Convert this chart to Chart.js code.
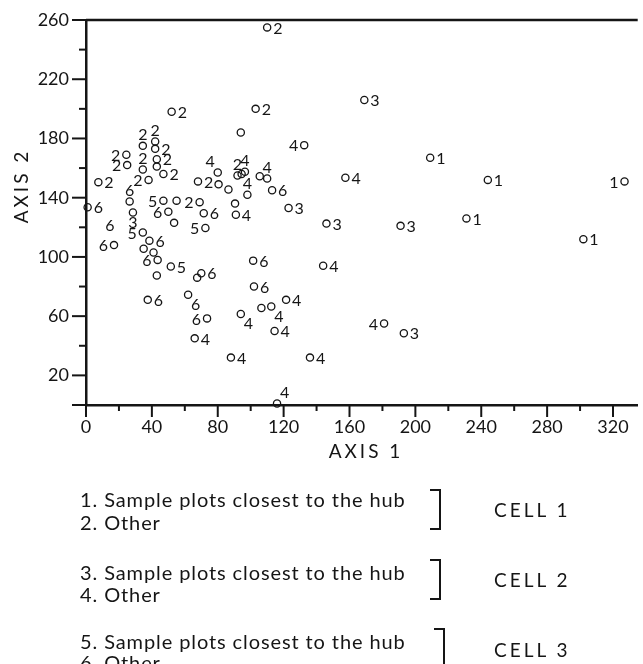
<!DOCTYPE html>
<html>
<head>
<meta charset="utf-8">
<script src="https://cdn.jsdelivr.net/npm/chart.js@4"></script>
<style>
  html, body { margin: 0; padding: 0; background: #fff; }
  #wrap { position: relative; width: 643px; height: 664px; overflow: hidden; }
  #myChart { position: absolute; left: 0; top: 0; }
  .key { position: absolute; font-family: Lato, sans-serif; font-size: 20px; letter-spacing: 0.9px; color: #151515; white-space: nowrap; line-height: 22px; }
  .cell { font-size: 19px; letter-spacing: 3px; }
  .brace { position: absolute; border: 2px solid #151515; border-left: none; width: 9px; }
</style>
</head>
<body>
<div id="wrap">
  <canvas id="myChart" width="643" height="664"></canvas>

  <div class="key" style="left:80px; top:488px;">1.&nbsp;Sample plots closest to the hub</div>
  <div class="key" style="left:80px; top:511px;">2.&nbsp;Other</div>
  <div class="brace" style="left:430px; top:489px; height:37px;"></div>
  <div class="key cell" style="left:494px; top:499px;">CELL 1</div>

  <div class="key" style="left:80px; top:561px;">3.&nbsp;Sample plots closest to the hub</div>
  <div class="key" style="left:80px; top:583px;">4.&nbsp;Other</div>
  <div class="brace" style="left:430px; top:559px; height:37px;"></div>
  <div class="key cell" style="left:494px; top:569px;">CELL 2</div>

  <div class="key" style="left:80px; top:630px;">5.&nbsp;Sample plots closest to the hub</div>
  <div class="key" style="left:80px; top:651px;">6.&nbsp;Other</div>
  <div class="brace" style="left:434px; top:628px; height:37px;"></div>
  <div class="key cell" style="left:494px; top:639px;">CELL 3</div>
</div>

<script>
// axis 1 / axis 2 scores
const cell1Hub = [[209, 167], [244, 152], [327, 151], [231, 126], [302, 112]];
const cell1Other = [
    [110, 255], [103, 200], [52, 198], [34.5, 175], [42, 178], [42, 173],
    [24.5, 169], [43, 166], [43, 161], [25, 162], [34.5, 159], [47, 156],
    [7.5, 150.5], [38, 152], [69, 137], [68, 151], [80.5, 149], [86.5, 145.5],
    [92, 155], [94, 184]
];
const cell2Hub = [[169, 206], [123, 133], [146, 122.5], [191, 121], [193, 48.5], [28.5, 130]];
const cell2Other = [
    [132.5, 175.5], [157.5, 153.5], [80, 157], [94.5, 156], [96.5, 157.5],
    [105.5, 154.5], [110, 153], [98, 142], [90.5, 136], [91, 128.5],
    [144, 94], [121.5, 71], [106.5, 65.5], [112.5, 66.5], [94, 61.5],
    [114.5, 50], [181, 55], [88, 32], [136, 32], [116, 1], [66, 45]
];
const cell3Hub = [[34.5, 116.5], [51.5, 93.5], [47, 138], [72.5, 119.5], [55, 138]];
const cell3Other = [
    [1, 133.5], [26.5, 137.5], [14.5, 121.5], [38.5, 111], [35, 105.5],
    [41, 103], [43.5, 98], [43, 87.5], [37.5, 71], [17, 108], [50, 130.5],
    [53.5, 123], [71.5, 129.5], [70, 89], [67.5, 86], [62, 74.5], [73.5, 58.5],
    [113, 145], [101.5, 97.5], [102, 80]
];

// where each number sits next to its circle (r, l, t, b, n = none, c = number only)
const side1 = ['r', 'r', 'l', 'r', 'r'];
const side2 = ['r', 'r', 'r', 't', 't', 'r', 'l', 'r', 'n', 'l', 't', 'r', 'r', 'l', 'l', 'r', 'n', 'n', 't', 'n'];
const side3 = ['r', 'r', 'r', 'r', 'r', 'b'];
const side4 = ['l', 'r', 'tl', 'n', 't', 'n', 't', 't', 'n', 'r', 'r', 'r', 'n', 'br', 'br', 'r', 'l', 'r', 'r', 'tr', 'r'];
const side5 = ['l', 'r', 'l', 'l', 'n'];
const side6 = ['r', 't', 'c', 'r', 'n', 'n', 'l', 'n', 'r', 'l', 'l', 'n', 'r', 'r', 'n', 'br', 'l', 'r', 'r', 'r'];

const groups = [
    { tag: '1', pts: cell1Hub, sides: side1 },
    { tag: '2', pts: cell1Other, sides: side2 },
    { tag: '3', pts: cell2Hub, sides: side3 },
    { tag: '4', pts: cell2Other, sides: side4 },
    { tag: '5', pts: cell3Hub, sides: side5 },
    { tag: '6', pts: cell3Other, sides: side6 },
];

const INK = '#151515';
const FONT = 'Lato, sans-serif';

const datasets = groups.map(g => ({
    label: g.tag,
    tag: g.tag,
    sides: g.sides,
    data: g.pts.map(p => ({ x: p[0], y: p[1] })),
    pointStyle: 'circle',
    radius: ctx => g.sides[ctx.dataIndex] === 'c' ? 0 : 3.6,
    borderColor: INK,
    borderWidth: 1.3,
    backgroundColor: 'rgba(255,255,255,0)',
    clip: false,
}));

// digits next to the circles
const pointTags = {
    id: 'pointTags',
    afterDatasetsDraw(chart) {
        const ctx = chart.ctx;
        ctx.save();
        ctx.font = '16px ' + FONT;
        ctx.fillStyle = INK;
        ctx.textBaseline = 'middle';
        chart.data.datasets.forEach((ds, i) => {
            chart.getDatasetMeta(i).data.forEach((pt, j) => {
                const s = ds.sides[j];
                if (s === 'n') return;
                let dx = 0, dy = 1, align = 'center';
                if (s.includes('r')) { dx = 6; align = 'left'; }
                if (s.includes('l')) { dx = -6; align = 'right'; }
                if (s.includes('t')) dy = -11;
                if (s.includes('b')) dy = 10;
                if (s.length === 2) dx = dx > 0 ? 3 : -3;
                ctx.textAlign = align;
                ctx.fillText(ds.tag, pt.x + dx, pt.y + dy);
            });
        });
        ctx.restore();
    }
};

// tick marks, top frame line and axis titles
const frame = {
    id: 'frame',
    afterDraw(chart) {
        const { ctx, chartArea: a, scales: { x, y } } = chart;
        ctx.save();
        ctx.strokeStyle = INK;
        ctx.lineWidth = 2;
        for (let v = 0; v <= 320; v += 20) {
            const px = x.getPixelForValue(v);
            const len = v % 40 === 0 ? 12 : 6;
            ctx.beginPath();
            ctx.moveTo(px, a.bottom);
            ctx.lineTo(px, a.bottom + len);
            ctx.stroke();
        }
        for (let v = 0; v <= 260; v += 20) {
            const py = y.getPixelForValue(v);
            const len = (v === 0 || (v - 20) % 40 === 0) ? 14 : 7;
            ctx.beginPath();
            ctx.moveTo(a.left, py);
            ctx.lineTo(a.left - len, py);
            ctx.stroke();
        }
        ctx.lineWidth = 2.5;
        ctx.beginPath();
        ctx.moveTo(a.left, a.top);
        ctx.lineTo(a.right, a.top);
        ctx.stroke();

        ctx.fillStyle = INK;
        ctx.font = '19px ' + FONT;
        ctx.letterSpacing = '3px';
        ctx.textAlign = 'center';
        ctx.textBaseline = 'middle';
        ctx.fillText('AXIS 1', 366, 452);
        ctx.translate(22, 186);
        ctx.rotate(-Math.PI / 2);
        ctx.fillText('AXIS 2', 0, 0);
        ctx.restore();
    }
};

const config = {
    type: 'scatter',
    data: { datasets: datasets },
    options: {
        responsive: false,
        animation: false,
        layout: { padding: { top: 20, right: 0, bottom: 0, left: 0 } },
        plugins: {
            legend: { display: false },
            tooltip: { enabled: false },
        },
        scales: {
            x: {
                type: 'linear',
                min: 0,
                max: 335,
                grid: { display: false },
                border: { display: true, color: INK, width: 2.5 },
                ticks: {
                    stepSize: 20,
                    includeBounds: false,
                    autoSkip: false,
                    maxRotation: 0,
                    padding: 3,
                    color: INK,
                    font: { family: FONT, size: 18 },
                    callback: v => v % 40 === 0 ? String(v) : '',
                },
                afterFit: s => { s.height = 259; },
            },
            y: {
                type: 'linear',
                min: 0,
                max: 260,
                grid: { display: false },
                border: { display: true, color: INK, width: 2.5 },
                ticks: {
                    stepSize: 20,
                    includeBounds: false,
                    autoSkip: false,
                    padding: 9,
                    color: INK,
                    font: { family: FONT, size: 18 },
                    callback: v => (v - 20) % 40 === 0 ? String(v) : '',
                },
                afterFit: s => { s.width = 86; },
            },
        },
    },
    plugins: [pointTags, frame],
};

const myChart = new Chart(document.getElementById('myChart'), config);
</script>
</body>
</html>
